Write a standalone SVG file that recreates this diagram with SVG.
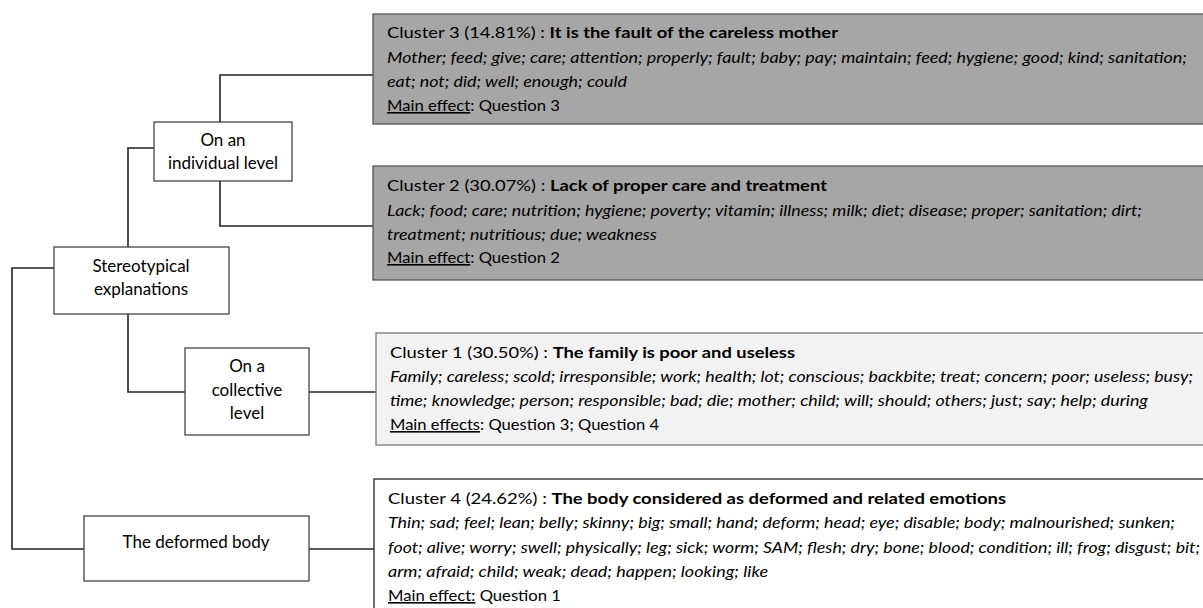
<svg xmlns="http://www.w3.org/2000/svg" width="1203" height="608" viewBox="0 0 1203 608">
<style>
text{font-family:Lato,"Open Sans","Liberation Sans",sans-serif;font-size:16px;fill:#000}
.c{text-anchor:middle;font-size:17px}
.i{font-style:italic}
.b{font-weight:bold}
.u{text-decoration:underline}
.node{fill:#fff;stroke:#444;stroke-width:1.3}
.conn{fill:none;stroke:#222;stroke-width:1.6}
</style>
<rect width="1203" height="608" fill="#fff"/>
<g id="connectors" class="conn">
<polyline points="220,122 220,75 373,75"/>
<polyline points="220,181 220,226 373,226"/>
<polyline points="128,247 128,148 154,148"/>
<polyline points="128,314 128,392 185,392"/>
<line x1="309" y1="392" x2="376" y2="392"/>
<polyline points="54,268 12,268 12,549 84,549"/>
<line x1="309" y1="549" x2="374" y2="549"/>
</g>
<g id="node-individual">
<rect class="node" x="154" y="122" width="138" height="59"/>
<text class="c" x="223" y="146">On an</text>
<text class="c" x="223" y="169">individual level</text>
</g>
<g id="node-stereotypical">
<rect class="node" x="54" y="247" width="175" height="67"/>
<text class="c" x="141" y="272">Stereotypical</text>
<text class="c" x="141" y="295">explanations</text>
</g>
<g id="node-collective">
<rect class="node" x="185" y="348" width="124" height="87"/>
<text class="c" x="247" y="372">On a</text>
<text class="c" x="247" y="396">collective</text>
<text class="c" x="247" y="419">level</text>
</g>
<g id="node-deformed">
<rect class="node" x="84" y="516" width="225" height="65"/>
<text class="c" x="196" y="548">The deformed body</text>
</g>
<g id="cluster3">
<rect x="373" y="14" width="840" height="110" fill="#a6a6a6" stroke="#555" stroke-width="1.3"/>
<text x="387" y="38" textLength="451" lengthAdjust="spacingAndGlyphs">Cluster 3 (14.81%) : <tspan class="b">It is the fault of the careless mother</tspan></text>
<text class="i" x="387" y="63" textLength="800" lengthAdjust="spacingAndGlyphs">Mother; feed; give; care; attention; properly; fault; baby; pay; maintain; feed; hygiene; good; kind; sanitation;</text>
<text class="i" x="387" y="87" textLength="240" lengthAdjust="spacingAndGlyphs">eat; not; did; well; enough; could</text>
<text x="387" y="111" textLength="173" lengthAdjust="spacingAndGlyphs"><tspan class="u">Main effect</tspan>: Question 3</text>
</g>
<g id="cluster2">
<rect x="373" y="166" width="840" height="114" fill="#a6a6a6" stroke="#555" stroke-width="1.3"/>
<text x="387" y="191" textLength="440" lengthAdjust="spacingAndGlyphs">Cluster 2 (30.07%) : <tspan class="b">Lack of proper care and treatment</tspan></text>
<text class="i" x="387" y="216" textLength="755" lengthAdjust="spacingAndGlyphs">Lack; food; care; nutrition; hygiene; poverty; vitamin; illness; milk; diet; disease; proper; sanitation; dirt;</text>
<text class="i" x="387" y="240" textLength="270" lengthAdjust="spacingAndGlyphs">treatment; nutritious; due; weakness</text>
<text x="387" y="263" textLength="173" lengthAdjust="spacingAndGlyphs"><tspan class="u">Main effect</tspan>: Question 2</text>
</g>
<g id="cluster1">
<rect x="376" y="333" width="840" height="112" fill="#f2f2f2" stroke="#777" stroke-width="1.3"/>
<text x="390" y="358" textLength="405" lengthAdjust="spacingAndGlyphs">Cluster 1 (30.50%) : <tspan class="b">The family is poor and useless</tspan></text>
<text class="i" x="390" y="382" textLength="803" lengthAdjust="spacingAndGlyphs">Family; careless; scold; irresponsible; work; health; lot; conscious; backbite; treat; concern; poor; useless; busy;</text>
<text class="i" x="390" y="406" textLength="758" lengthAdjust="spacingAndGlyphs">time; knowledge; person; responsible; bad; die; mother; child; will; should; others; just; say; help; during</text>
<text x="390" y="430" textLength="269" lengthAdjust="spacingAndGlyphs"><tspan class="u">Main effects</tspan>: Question 3; Question 4</text>
</g>
<g id="cluster4">
<rect x="374" y="479" width="840" height="140" fill="#fff" stroke="#222" stroke-width="1.3"/>
<text x="388" y="504" textLength="618" lengthAdjust="spacingAndGlyphs">Cluster 4 (24.62%) : <tspan class="b">The body considered as deformed and related emotions</tspan></text>
<text class="i" x="388" y="528" textLength="787" lengthAdjust="spacingAndGlyphs">Thin; sad; feel; lean; belly; skinny; big; small; hand; deform; head; eye; disable; body; malnourished; sunken;</text>
<text class="i" x="388" y="553" textLength="812" lengthAdjust="spacingAndGlyphs">foot; alive; worry; swell; physically; leg; sick; worm; SAM; flesh; dry; bone; blood; condition; ill; frog; disgust; bit;</text>
<text class="i" x="388" y="577" textLength="380" lengthAdjust="spacingAndGlyphs">arm; afraid; child; weak; dead; happen; looking; like</text>
<text x="388" y="601" textLength="173" lengthAdjust="spacingAndGlyphs"><tspan class="u">Main effect:</tspan> Question 1</text>
</g>
</svg>
